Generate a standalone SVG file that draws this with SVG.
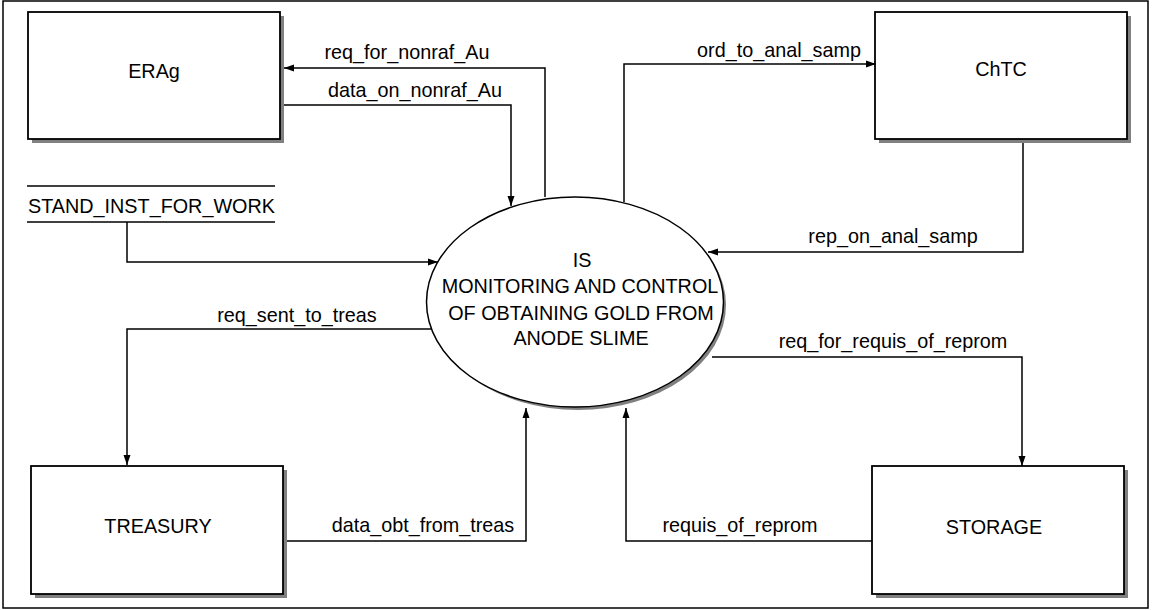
<svg xmlns="http://www.w3.org/2000/svg" width="1154" height="610" viewBox="0 0 1154 610">
<style>
.box{fill:#fff;stroke:#000;stroke-width:1.8}
.shadow{fill:#808080;stroke:none}
.conn{fill:none;stroke:#000;stroke-width:1.5}
.t{font-family:"Liberation Sans",Arial,sans-serif;font-size:19.8px;fill:#000}
.m{text-anchor:middle}
</style>
<defs>
<marker id="arr" markerUnits="userSpaceOnUse" markerWidth="10" markerHeight="8" refX="10" refY="4" orient="auto">
<path d="M0,0.5 L10,4 L0,7.5 z" fill="#000"/>
</marker>
</defs>
<rect x="3" y="1" width="1145" height="607" fill="#fff" stroke="#000" stroke-width="1.5"/>

<g id="ERAg">
<rect class="shadow" x="32" y="16" width="252" height="127"/>
<rect class="box" x="28" y="12" width="252" height="127"/>
<text class="t m" x="154" y="78">ERAg</text>
</g>
<g id="ChTC">
<rect class="shadow" x="879" y="16" width="252" height="127"/>
<rect class="box" x="875" y="12" width="252" height="127"/>
<text class="t m" x="1001" y="76">ChTC</text>
</g>
<g id="TREASURY">
<rect class="shadow" x="35" y="470" width="252" height="128"/>
<rect class="box" x="31" y="466" width="252" height="128"/>
<text class="t m" x="158" y="533">TREASURY</text>
</g>
<g id="STORAGE">
<rect class="shadow" x="876" y="470" width="252" height="128"/>
<rect class="box" x="872" y="466" width="252" height="128"/>
<text class="t m" x="994" y="534">STORAGE</text>
</g>
<g id="STAND_INST_FOR_WORK">
<line x1="27" y1="186" x2="275" y2="186" stroke="#000" stroke-width="1.5"/>
<line x1="27" y1="222" x2="275" y2="222" stroke="#000" stroke-width="1.5"/>
<text class="t" x="28" y="213">STAND_INST_FOR_WORK</text>
</g>
<g id="IS">
<ellipse cx="578" cy="305" rx="148" ry="105" fill="#808080"/>
<ellipse cx="575" cy="302" rx="148.5" ry="105" fill="#fff" stroke="#000" stroke-width="1.5"/>
<text class="t m" x="582" y="267">IS</text>
<text class="t m" x="580" y="293">MONITORING AND CONTROL</text>
<text class="t m" x="581" y="320">OF OBTAINING GOLD FROM</text>
<text class="t m" x="581" y="345">ANODE SLIME</text>
</g>

<g id="connectors">
<path class="conn" d="M545,197 V68 H284" marker-end="url(#arr)"/>
<path class="conn" d="M284,105 H511 V206" marker-end="url(#arr)"/>
<path class="conn" d="M624,202 V64 H876" marker-end="url(#arr)"/>
<path class="conn" d="M1023,143 V252 H708" marker-end="url(#arr)"/>
<path class="conn" d="M127,222 V262 H438" marker-end="url(#arr)"/>
<path class="conn" d="M432,329 H127 V465" marker-end="url(#arr)"/>
<path class="conn" d="M712,357 H1022 V466" marker-end="url(#arr)"/>
<path class="conn" d="M287,541 H526 V408" marker-end="url(#arr)"/>
<path class="conn" d="M872,541 H626 V408" marker-end="url(#arr)"/>
<text class="t m" x="407" y="59">req_for_nonraf_Au</text>
<text class="t m" x="415" y="97">data_on_nonraf_Au</text>
<text class="t m" x="779" y="57">ord_to_anal_samp</text>
<text class="t m" x="893" y="243">rep_on_anal_samp</text>
<text class="t m" x="297" y="322">req_sent_to_treas</text>
<text class="t m" x="893" y="348">req_for_requis_of_reprom</text>
<text class="t m" x="423" y="532">data_obt_from_treas</text>
<text class="t m" x="740" y="532">requis_of_reprom</text>
</g>
</svg>
